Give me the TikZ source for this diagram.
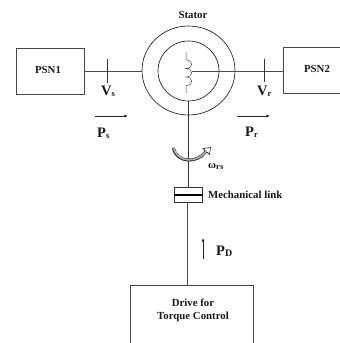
\documentclass[tikz,border=0pt]{standalone}
\usepackage{fontspec}
\setmainfont{Liberation Serif}
\usetikzlibrary{shapes.geometric,arrows.meta}
\tikzset{
  x=1pt,y=-1pt,
  wire/.style={draw=black!70,line width=1pt},
  thin wire/.style={draw=black!80,line width=0.65pt},
  blockbox/.style={draw=black!72,line width=0.85pt,rectangle,inner sep=0,fill=none},
  ring/.style={draw=black!90,line width=0.65pt,ellipse,inner sep=0},
  lab/.style={font=\bfseries\fontsize{10.8}{13}\selectfont,inner sep=0,align=center,text=black!90},
  big/.style={font=\bfseries\fontsize{14.5}{16}\selectfont,inner sep=0,anchor=base west,text=black!90},
  flow/.style={draw=black!85,line width=0.65pt,-{Latex[length=3.6pt,width=3pt]}}
}
\newcommand{\sbs}[1]{\raisebox{-1.5pt}{\fontsize{8.5}{8.5}\selectfont #1}}
\begin{document}
\begin{tikzpicture}
\clip (0,0) rectangle (340,343);
\node[blockbox,minimum width=68pt,minimum height=46pt] (psn1) at (50,71) {};
\node[lab] (psn1t) at (48,70) {PSN1};
\node[blockbox,minimum width=80pt,minimum height=46pt,anchor=west] (psn2) at (283,70.5) {};
\node[lab] (psn2t) at (317,69) {PSN2};
\node[blockbox,minimum width=123pt,minimum height=80pt,anchor=north west] (drive) at (130,285) {};
\node[lab] (drivet) at (193,310.5) {Drive for\\Torque Control};
\node[ring,minimum width=93pt,minimum height=89pt] (outer) at (188.5,70.5) {};
\node[ring,minimum width=61pt,minimum height=60pt] (inner) at (188.5,71) {};
\node[lab] (stator) at (193,15) {Stator};
\node[draw=black!80,line width=0.8pt,rectangle,inner sep=0,minimum width=27.5pt,minimum height=14.5pt] (link) at (188.5,195) {};
\node[lab,anchor=west] (linkt) at (208,195) {Mechanical link};
% coil
\coordinate (coilT) at (186,52);
\coordinate (coilB) at (186,93);
\coordinate (coilJ) at (192,71);
\draw[draw=black!75,line width=0.5pt] (coilT) -- (186,60)
  .. controls (193.5,60) and (193.5,68.5) .. (186,68.5)
  .. controls (193.5,68.5) and (193.5,77) .. (186,77)
  .. controls (193.5,77) and (193.5,85.5) .. (186,85.5) -- (coilB);
% buses
\draw[wire] (psn1.east |- 0,71) -- (outer.west |- 0,71);
\draw[wire] (coilJ) -- (psn2.west |- coilJ);
\coordinate (vsT) at (107.5,59); \coordinate (vsB) at (107.5,83);
\coordinate (vrT) at (264.7,59); \coordinate (vrB) at (264.7,82);
\draw[thin wire] (vsT) -- (vsB);
\draw[thin wire] (vrT) -- (vrB);
\node[big] (vs) at (101,95) {V\sbs{s}};
\node[big] (vr) at (257,95) {V\sbs{r}};
% shafts
\draw[thin wire] (inner.south) -- (link.north -| inner.south);
\draw[wire] (187.5,202.2) -- (drive.north -| 187.5,0);
\draw[line width=1.2pt,draw=black] (link.west) -- (link.east);
% power arrows
\coordinate (psA) at (95,116); \coordinate (psB) at (128,116);
\coordinate (prA) at (237,116); \coordinate (prB) at (270,116);
\coordinate (pdA) at (203,259); \coordinate (pdB) at (203,238);
\draw[flow] (psA) -- (psB);
\draw[flow] (prA) -- (prB);
\draw[flow] (pdA) -- (pdB);
\node[big] (ps) at (97,137) {P\sbs{s}};
\node[big] (pr) at (245,136) {P\sbs{r}};
\node[big] (pd) at (216,255) {P\sbs{\fontsize{10}{10}\selectfont D}};
% rotation arrow
\draw[draw=black!85,line width=3pt] (173.5,148) .. controls (176,163) and (198,164) .. (206,151);
\draw[draw=black!85,fill=white,line width=0.6pt] (203,148.5) -- (210.5,147.5) -- (209.5,154.5) -- cycle;
\draw[draw=white!70!black,line width=1.6pt] (173.6,147) .. controls (176,163) and (198,164) .. (206.5,150.5);
\node[font=\bfseries\fontsize{11}{13}\selectfont,inner sep=0,anchor=base west,text=black!90] (om) at (208,168) {ω\raisebox{-1.5pt}{\fontsize{8.5}{8.5}\selectfont rs}};
\end{tikzpicture}
\end{document}
